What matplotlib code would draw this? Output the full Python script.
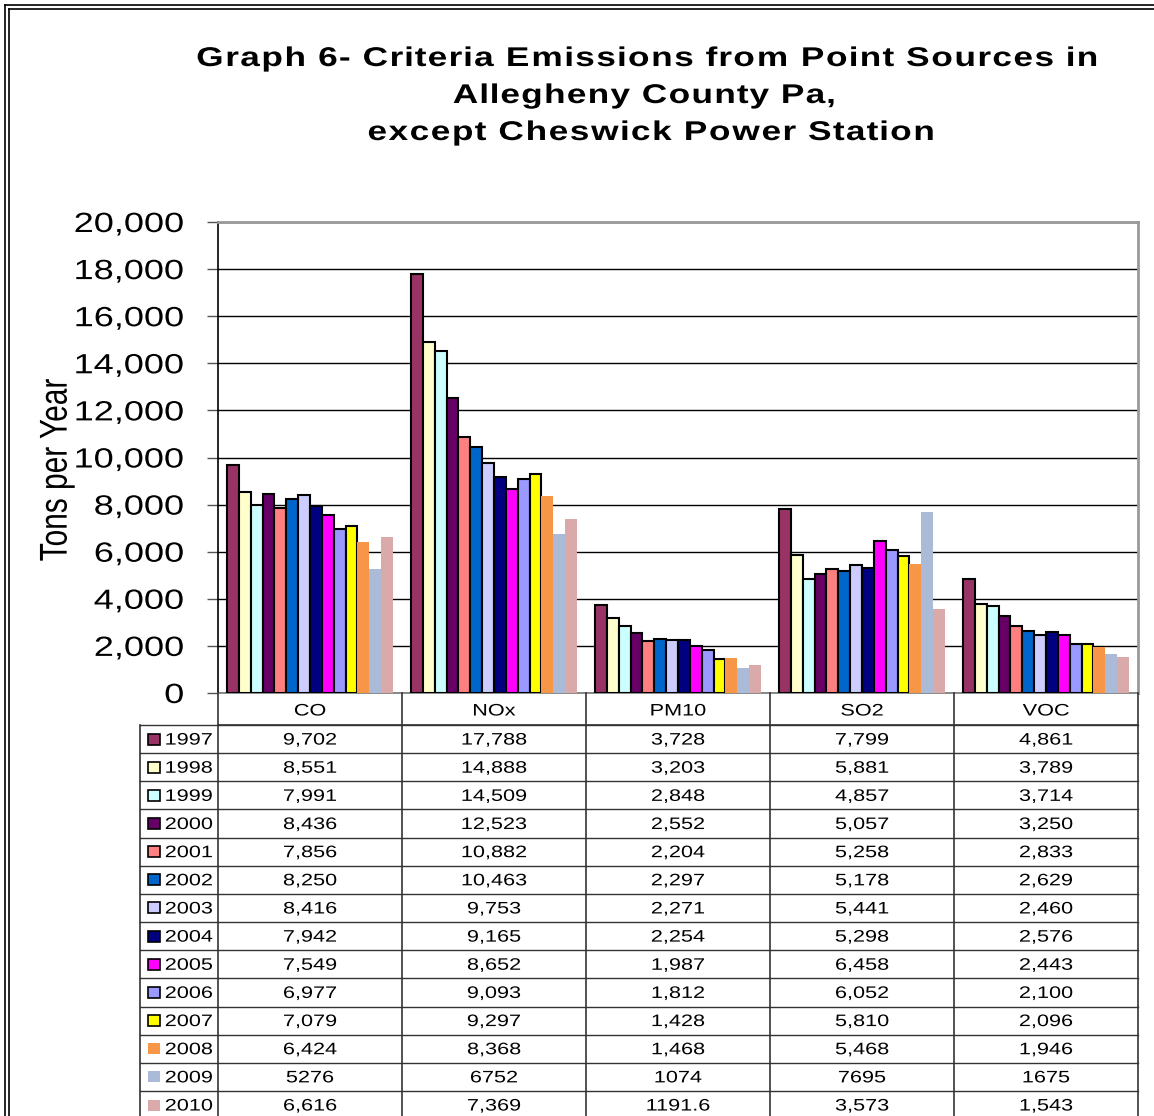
import matplotlib
matplotlib.use("Agg")
import matplotlib.pyplot as plt
import numpy as np
from matplotlib.patches import Rectangle
from matplotlib.lines import Line2D
from matplotlib.patheffects import AbstractPathEffect
from matplotlib.path import Path
from matplotlib.transforms import IdentityTransform

plt.rcParams['font.family'] = ['Liberation Sans', 'DejaVu Sans']

pollutants = ["CO", "NOx", "PM10", "SO2", "VOC"]
years = ["1997", "1998", "1999", "2000", "2001", "2002", "2003",
         "2004", "2005", "2006", "2007", "2008", "2009", "2010"]
co   = [9702, 8551, 7991, 8436, 7856, 8250, 8416, 7942, 7549, 6977, 7079, 6424, 5276, 6616]
nox  = [17788, 14888, 14509, 12523, 10882, 10463, 9753, 9165, 8652, 9093, 9297, 8368, 6752, 7369]
pm10 = [3728, 3203, 2848, 2552, 2204, 2297, 2271, 2254, 1987, 1812, 1428, 1468, 1074, 1191.6]
so2  = [7799, 5881, 4857, 5057, 5258, 5178, 5441, 5298, 6458, 6052, 5810, 5468, 7695, 3573]
voc  = [4861, 3789, 3714, 3250, 2833, 2629, 2460, 2576, 2443, 2100, 2096, 1946, 1675, 1543]
yticks = [0, 2000, 4000, 6000, 8000, 10000, 12000, 14000, 16000, 18000, 20000]

colors = ["#993366", "#FFFFCC", "#CCFFFF", "#660066", "#FF8080", "#0066CC", "#CCCCFF",
          "#000080", "#FF00FF", "#9999FF", "#FFFF00", "#F79646", "#AABAD7", "#DAA9A9"]
edged = [True] * 11 + [False] * 3
plain_format = [False] * 12 + [True] + [False]

series = np.array([co, nox, pm10, so2, voc])  # shape (5, 14)


class StretchX(AbstractPathEffect):
    """Widen text horizontally: glyph shapes by sg, glyph spacing by st."""

    def __init__(self, sg, st=None, anchor="center"):
        super().__init__()
        self.sg = sg
        self.st = sg if st is None else st
        self.anchor = anchor

    def draw_path(self, renderer, gc, tpath, affine, rgbFace=None):
        codes = tpath.codes
        if codes is None or len(tpath.vertices) == 0:
            renderer.draw_path(gc, tpath, affine, rgbFace)
            return
        verts = affine.transform(tpath.vertices)
        xs = verts[:, 0]
        valid = codes != Path.CLOSEPOLY
        lo, hi = xs[valid].min(), xs[valid].max()
        if self.anchor == "left":
            anc = lo
        elif self.anchor == "right":
            anc = hi
        else:
            anc = (lo + hi) / 2
        starts = np.where(codes == Path.MOVETO)[0]
        ends = list(starts[1:]) + [len(codes)]
        new = verts.copy()
        for st_i, en in zip(starts, ends):
            m = valid[st_i:en]
            seg = xs[st_i:en][m]
            if len(seg) == 0:
                continue
            c = (seg.min() + seg.max()) / 2
            new[st_i:en, 0] = anc + self.st * (c - anc) + self.sg * (xs[st_i:en] - c)
        if self.anchor == "right":
            new[:, 0] += hi - new[valid, 0].max()
        elif self.anchor == "left":
            new[:, 0] += lo - new[valid, 0].min()
        renderer.draw_path(gc, Path(new, codes), IdentityTransform(), rgbFace)


W, H = 1154, 1116
fig = plt.figure(figsize=(W / 100, H / 100), dpi=100)

# pixel layout
L, R, T, B = 218, 1138, 222, 693
ax = fig.add_axes([L / W, 1 - B / H, (R - L) / W, (B - T) / H])

ncat = len(pollutants)
nyr = len(years)
bw = 0.0645
x = np.arange(ncat)
for j in range(nyr):
    offs = (j - (nyr - 1) / 2) * bw
    ax.bar(x + offs, series[:, j], width=bw, color=colors[j],
           edgecolor="black" if edged[j] else "none",
           linewidth=1.5 if edged[j] else 0, zorder=3)

ax.set_xlim(-0.5, ncat - 0.5)
ax.set_ylim(0, 20000)
ax.set_yticks(yticks)
ax.set_yticklabels([f"{v:,}" for v in yticks], fontsize=20)
for lbl in ax.get_yticklabels():
    lbl.set_path_effects([StretchX(1.3, anchor="right")])
ax.yaxis.grid(True, color="black", linewidth=1.0, zorder=0)
ax.set_xticks([])
ax.tick_params(axis="y", length=8, width=1, color="#555555", pad=16.5)
for s in ["top", "right"]:
    ax.spines[s].set_color("#999999")
    ax.spines[s].set_linewidth(2)
ax.spines["left"].set_color("black")
ax.spines["left"].set_linewidth(1.2)
ax.spines["bottom"].set_color("#777777")
ax.spines["bottom"].set_linewidth(1.2)
ylab = ax.set_ylabel("Tons per Year", fontsize=21.5, va="center", ha="center")
ylab.set_path_effects([StretchX(1.3)])
ax.yaxis.set_label_coords(-(L - 56.5) / (R - L), (B - 470) / (B - T))

# title
title_lines = ["Graph 6- Criteria Emissions from Point Sources in",
               "Allegheny County Pa,",
               "except Cheswick Power Station"]
title_pos = [(647, 59), (644, 96), (651, 133)]
title_track = [1.4, 1.38, 1.4]
for txt, (tx, ty), trk in zip(title_lines, title_pos, title_track):
    t = fig.text(tx / W, 1 - ty / H, txt, ha="center", va="center",
                 fontsize=19.5, fontweight="bold")
    t.set_path_effects([StretchX(1.3, trk)])

# overlay axes in pixel coordinates for table and frame
ov = fig.add_axes([0, 0, 1, 1])
ov.set_xlim(0, W)
ov.set_ylim(H, 0)
ov.axis("off")

# outer frame (double line)
for off in (5, 9):
    ov.add_line(Line2D([off, off], [off, H + 5], color="black", lw=1.2))
    ov.add_line(Line2D([off, W + 5], [off, off], color="black", lw=1.2))

catw = (R - L) / ncat
header_top, header_bot = 695, 725
rowh = 28.15
leg_left = 140
line_col = "#333333"
tfs = 12
tstretch = 1.3

for i in range(ncat + 1):
    xv = L + i * catw
    ov.add_line(Line2D([xv, xv], [B, H + 5], color=line_col, lw=1.2))
ov.add_line(Line2D([L, R], [header_bot, header_bot], color=line_col, lw=1.2))
for i, p in enumerate(pollutants):
    t = ov.text(L + (i + 0.5) * catw, (header_top + header_bot) / 2 + 1, p,
                ha="center", va="center", fontsize=tfs)
    t.set_path_effects([StretchX(tstretch)])

ov.add_line(Line2D([leg_left, leg_left], [header_bot, H + 5], color=line_col, lw=1.2))
for j in range(nyr + 1):
    yv = header_bot + j * rowh
    ov.add_line(Line2D([leg_left, R], [yv, yv], color=line_col, lw=1.0))


def fmt(v, plain):
    if v != int(v):
        return f"{v}"
    if plain:
        return f"{int(v)}"
    return f"{int(v):,}"


for j, yr in enumerate(years):
    yc = header_bot + (j + 0.5) * rowh
    ov.add_patch(Rectangle((148, yc - 5.5), 12, 11, facecolor=colors[j],
                           edgecolor="black" if edged[j] else "none",
                           lw=1.2 if edged[j] else 0))
    t = ov.text(165, yc + 1, yr, ha="left", va="center", fontsize=tfs)
    t.set_path_effects([StretchX(tstretch, anchor="left")])
    for i in range(ncat):
        t = ov.text(L + (i + 0.5) * catw, yc + 1, fmt(series[i, j], plain_format[j]),
                    ha="center", va="center", fontsize=tfs)
        t.set_path_effects([StretchX(tstretch)])

fig.savefig("out.png", dpi=100)
